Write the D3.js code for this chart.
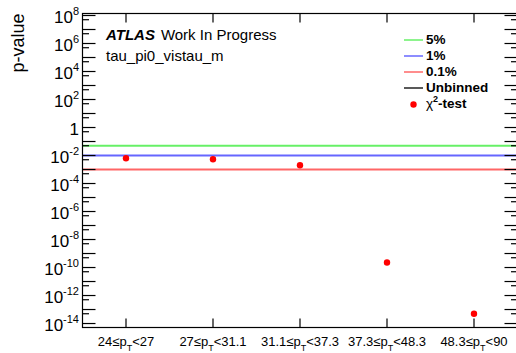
<!DOCTYPE html>
<html>
<head>
<meta charset="utf-8">
<script src="https://cdn.jsdelivr.net/npm/d3@7"></script>
<style>
  html, body { margin: 0; padding: 0; background: #fff; }
  svg { display: block; font-family: "Liberation Sans", Arial, Helvetica, sans-serif; }
</style>
</head>
<body>
<svg id="chart" width="516" height="353"></svg>
<script>
// pT bins of the tau_pi0_vistau_m comparison
const binLabels = [
  ["24", "27"],
  ["27", "31.1"],
  ["31.1", "37.3"],
  ["37.3", "48.3"],
  ["48.3", "90"]
];
// chi2-test p-values per bin
const chi2PValues = [6.3e-3, 5.4e-3, 2.0e-3, 2.3e-10, 5.0e-14];
// unbinned-test p-values (none in range)
const unbinnedPValues = [];
// significance thresholds
const thresholds = [
  { label: "5%", value: 0.05, color: "rgb(0,230,0)" },
  { label: "1%", value: 0.01, color: "rgb(0,0,255)" },
  { label: "0.1%", value: 0.001, color: "rgb(255,0,0)" }
];
// labelled decades and y-range
const labelledExponents = [8, 6, 4, 2, 0, -2, -4, -6, -8, -10, -12, -14];
const yDomain = [5.2e-15, 1.39e8];

const svg = d3.select("#chart");
const frame = { left: 82.5, right: 517.5, top: 13.5, bottom: 327.5 };

const x = d3.scaleBand()
  .domain(binLabels.map((d, i) => i))
  .range([frame.left, frame.right])
  .padding(0);
const y = d3.scaleLog().domain(yDomain).range([frame.bottom, frame.top]);

const cx = i => x(i) + x.bandwidth() / 2;

// threshold lines
svg.append("g").selectAll("line")
  .data(thresholds).join("line")
  .attr("x1", frame.left).attr("x2", frame.right)
  .attr("y1", d => y(d.value)).attr("y2", d => y(d.value))
  .attr("stroke", d => d.color).attr("stroke-opacity", 0.6)
  .attr("stroke-width", 2);

// unbinned line
svg.append("path")
  .datum(unbinnedPValues)
  .attr("fill", "none").attr("stroke", "#222")
  .attr("d", d3.line().x((d, i) => cx(i)).y(d => y(d)));

// frame
svg.append("rect")
  .attr("x", frame.left).attr("y", frame.top)
  .attr("width", frame.right - frame.left).attr("height", frame.bottom - frame.top)
  .attr("fill", "none").attr("stroke", "#000").attr("stroke-width", 1.2);

// y ticks: decades (long) and 5x10^n (short), on both sides
const decadeTicks = d3.range(-14, 9).map(e => Math.pow(10, e));
const halfTicks = d3.range(-15, 8).map(e => 5 * Math.pow(10, e))
  .filter(v => v >= yDomain[0] && v <= yDomain[1]);
const longLen = 13, shortLen = 6.5;
const yTicks = svg.append("g").attr("stroke", "#000").attr("stroke-width", 1.2);
[[decadeTicks, longLen], [halfTicks, shortLen]].forEach(([vals, len]) => {
  vals.forEach(v => {
    const yy = y(v);
    yTicks.append("line").attr("x1", frame.left).attr("x2", frame.left + len)
      .attr("y1", yy).attr("y2", yy);
    yTicks.append("line").attr("x1", frame.right).attr("x2", frame.right - len)
      .attr("y1", yy).attr("y2", yy);
  });
});

// y tick labels
const yLab = svg.append("g").attr("font-size", 17).attr("fill", "#000")
  .attr("text-anchor", "end");
labelledExponents.forEach(e => {
  const t = yLab.append("text").attr("x", 79).attr("y", y(Math.pow(10, e)) + 7);
  if (e === 0) {
    t.attr("y", y(1) + 7).text("1");
  } else {
    t.append("tspan").text("10");
    t.append("tspan").attr("font-size", 11).attr("dy", -8).text(String(e).replace("-", "-"));
  }
});

// x ticks at bin centres, top and bottom
const xTicks = svg.append("g").attr("stroke", "#000").attr("stroke-width", 1.2);
binLabels.forEach((d, i) => {
  xTicks.append("line").attr("x1", cx(i)).attr("x2", cx(i))
    .attr("y1", frame.bottom).attr("y2", frame.bottom - 9);
  xTicks.append("line").attr("x1", cx(i)).attr("x2", cx(i))
    .attr("y1", frame.top).attr("y2", frame.top + 9);
});

// x bin labels: lo ≤ p_T < hi
const xLab = svg.append("g").attr("font-size", 13).attr("fill", "#000")
  .attr("text-anchor", "middle");
binLabels.forEach((d, i) => {
  const t = xLab.append("text").attr("x", cx(i)).attr("y", 346);
  t.append("tspan").text(d[0] + "≤p");
  t.append("tspan").attr("font-size", 9).attr("dy", 5).text("T");
  t.append("tspan").attr("dy", -5).text("<" + d[1]);
});

// y axis title
svg.append("text")
  .attr("transform", "translate(24," + frame.top + ") rotate(-90)")
  .attr("text-anchor", "end")
  .attr("font-size", 18).text("p-value");

// chi2 points
svg.append("g").selectAll("circle")
  .data(chi2PValues).join("circle")
  .attr("cx", (d, i) => cx(i)).attr("cy", d => y(d))
  .attr("r", 3.2).attr("fill", "#ff0000");

// ATLAS label
const atlas = svg.append("text").attr("x", 106).attr("y", 39.5).attr("font-size", 15);
atlas.append("tspan").attr("font-weight", "bold").attr("font-style", "italic").text("ATLAS");
atlas.append("tspan").attr("dx", 6).text("Work In Progress");
svg.append("text").attr("x", 106).attr("y", 61).attr("font-size", 15).text("tau_pi0_vistau_m");

// legend
const legendItems = [
  ...thresholds.map(t => ({ label: t.label, type: "line", color: t.color, opacity: 0.6 })),
  { label: "Unbinned", type: "line", color: "#222", opacity: 1 },
  { label: "-test", type: "point", color: "#ff0000" }
];
const lg = svg.append("g");
legendItems.forEach((d, i) => {
  const yy = 44 + i * 16;
  if (d.type === "line") {
    lg.append("line").attr("x1", 404).attr("x2", 423).attr("y1", yy - 4).attr("y2", yy - 4)
      .attr("stroke", d.color).attr("stroke-opacity", d.opacity).attr("stroke-width", 1.5);
    lg.append("text").attr("x", 426).attr("y", yy).attr("font-size", 13.5)
      .attr("font-weight", "bold").text(d.label);
  } else {
    lg.append("circle").attr("cx", 413.5).attr("cy", yy - 3.5).attr("r", 3.2).attr("fill", d.color);
    const t = lg.append("text").attr("x", 426).attr("y", yy).attr("font-size", 13.5);
    t.append("tspan").text("χ");
    t.append("tspan").attr("font-size", 9).attr("font-weight", "bold").attr("dy", -6).text("2");
    t.append("tspan").attr("font-weight", "bold").attr("dy", 6).text(d.label);
  }
});
</script>
</body>
</html>
